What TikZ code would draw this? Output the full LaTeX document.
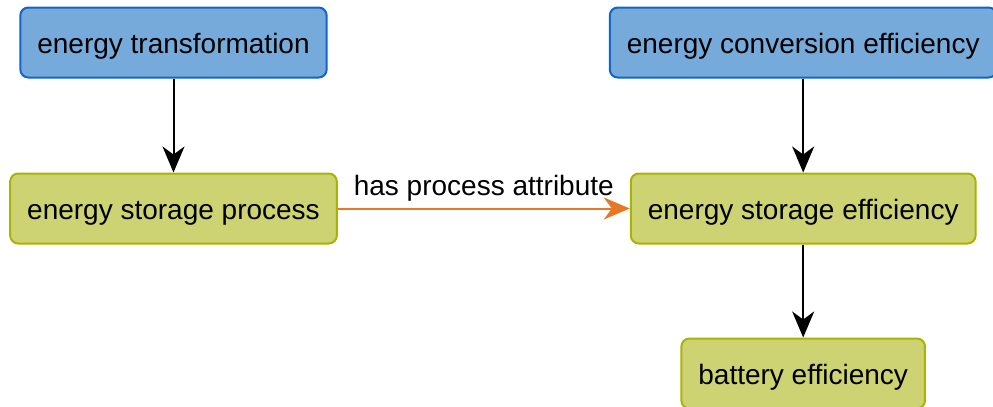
\documentclass[tikz,border=0pt]{standalone}
\usepackage{fontspec}
\setmainfont{Liberation Sans}
\usetikzlibrary{arrows.meta, positioning}
\definecolor{broadfill}{HTML}{75AADB}
\definecolor{broadline}{HTML}{1066CC}
\definecolor{termfill}{HTML}{CDD273}
\definecolor{termline}{HTML}{A8B400}
\definecolor{relorange}{HTML}{E67828}

\begin{document}
\begin{tikzpicture}[
    x=0.5pt, y=-0.5pt,
    node distance=47pt,
    font=\fontsize{14pt}{16pt}\selectfont,
    broad/.style={rectangle, rounded corners=4pt, draw=broadline, fill=broadfill,
        minimum height=35pt, inner xsep=8.5pt, text height=12pt, text depth=1pt,
        line width=1pt},
    term/.style={rectangle, rounded corners=4pt, draw=termline, fill=termfill,
        minimum height=35pt, inner xsep=8.5pt, text height=12pt, text depth=1pt,
        line width=1pt},
    arr/.style={-{Stealth[length=13pt, width=11pt, inset=4pt]}, line width=1pt, black},
    rel/.style={arr, draw=relorange}
]
    \useasboundingbox (0,0) rectangle (993,407);

    \node[term] (sproc) at (173.5,208.5) {energy storage process};
    \node[broad, above=of sproc] (trans) {energy transformation};
    \node[term, right=146pt of sproc] (seff) {energy storage efficiency};
    \node[broad, above=of seff] (conv) {energy conversion efficiency};
    \node[term, below=46.5pt of seff] (batt) {battery efficiency};

    \foreach \a/\b in {trans/sproc, conv/seff, seff/batt}
        \draw[arr] (\a) -- (\b);
    \draw[rel] (sproc) -- node[above, text=black] {has process attribute} (seff);
\end{tikzpicture}
\end{document}
